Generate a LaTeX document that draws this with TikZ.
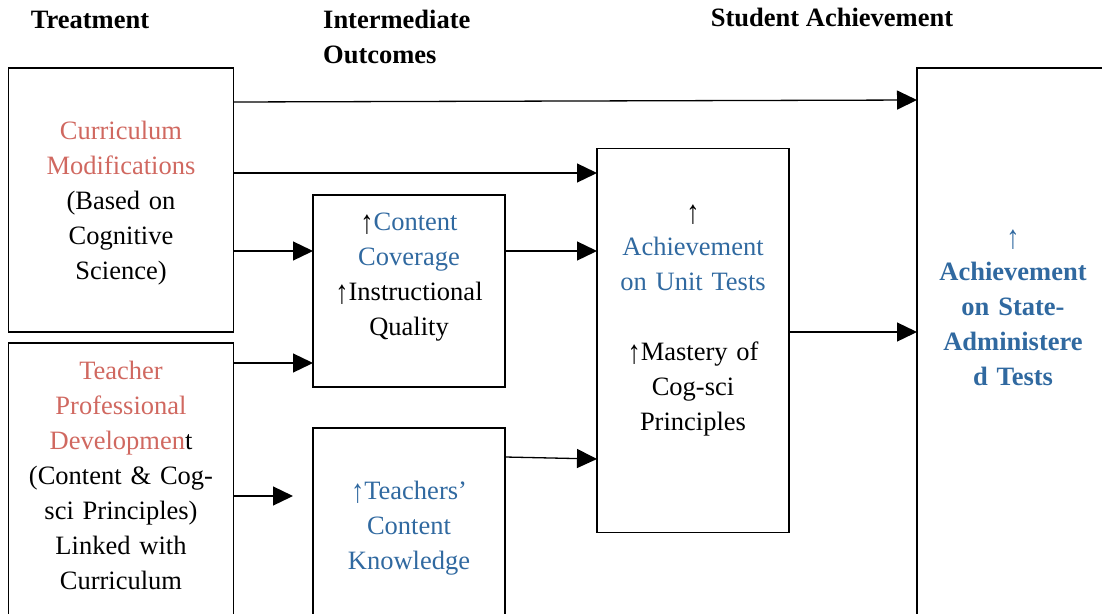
\documentclass[tikz,border=0pt]{standalone}
\usepackage{fontspec}
\usepackage{graphicx}
\setmainfont{Liberation Serif}
\usetikzlibrary{arrows.meta}
\definecolor{tred}{RGB}{208,104,96}
\definecolor{tblue}{RGB}{48,105,160}
\newcommand\myup{\raisebox{-3pt}{\scalebox{1}[1.25]{↑}}}
\begin{document}
\begin{tikzpicture}[x=1pt,y=-1pt,
  box/.style={draw, line width=1.4pt, inner sep=0pt, outer sep=0pt},
  txt/.style={anchor=base, inner sep=0pt, text width=#1, align=center, font=\fontsize{26.5}{35}\selectfont},
  hdr/.style={anchor=base, inner sep=0pt, font=\fontsize{26.5}{35}\selectfont\bfseries},
  hdrleft/.style={anchor=base west, inner sep=0pt, text width=200pt, align=left, font=\fontsize{26.5}{35}\selectfont\bfseries},
  arr/.style={line width=1.3pt, -{Triangle[length=20pt,width=19pt]}}]
\useasboundingbox (0,0) rectangle (1102,613);
\clip (0,0) rectangle (1102,613);

% headers
\node[hdr] (h1) at (90,28) {Treatment};
\node[hdrleft] (h2) at (323,28) {Intermediate\\Outcomes};
\node[hdr] (h3) at (832,26) {Student Achievement};

% boxes
\node[box, minimum width=225pt, minimum height=264pt] (A) at (121,200) {};
\node[box, minimum width=225pt, minimum height=300pt] (B) at (121,493) {};
\node[box, minimum width=192pt, minimum height=192pt] (C) at (409,291) {};
\node[box, minimum width=192pt, minimum height=220pt] (D) at (409,538) {};
\node[box, minimum width=192pt, minimum height=384pt] (E) at (693,340.5) {};
\node[box, minimum width=213pt, minimum height=580pt] (F) at (1023.5,358) {};

% box texts
\node[txt=220pt] (tA) at (121,139) {\textcolor{tred}{Curriculum}\\\textcolor{tred}{Modifications}\\(Based on\\Cognitive\\Science)};
\node[txt=220pt] (tB) at (121,379) {\textcolor{tred}{Teacher}\\\textcolor{tred}{Professional}\\\textcolor{tred}{Developmen}t\\(Content \& Cog-\\sci Principles)\\Linked with\\Curriculum};
\node[txt=188pt] (tC) at (409,230) {\myup\textcolor{tblue}{Content}\\\textcolor{tblue}{Coverage}\\\myup Instructional\\Quality};
\node[txt=188pt] (tD) at (409,499) {\textcolor{tblue}{\myup Teachers’}\\\textcolor{tblue}{Content}\\\textcolor{tblue}{Knowledge}};
\node[txt=188pt] (tE) at (693,220) {\myup\\\textcolor{tblue}{Achievement}\\\textcolor{tblue}{on Unit Tests}\\[35pt]\myup Mastery of\\Cog-sci\\Principles};
\node[txt=188pt] (tF) at (1013,245) {\textcolor{tblue}{\myup}\\\textcolor{tblue}{\bfseries Achievement}\\\textcolor{tblue}{\bfseries on State-}\\\textcolor{tblue}{\bfseries Administere}\\\textcolor{tblue}{\bfseries d Tests}};

% connectors
\coordinate (bEnd) at (293,496);
\draw[arr] (A.east |- 0,102) -- (F.west |- 0,100);
\draw[arr] (A.east |- 0,173) -- (E.west |- 0,173);
\draw[arr] (A.east |- 0,251) -- (C.west |- 0,251);
\draw[arr] (C.east |- 0,251) -- (E.west |- 0,251);
\draw[arr] (B.east |- 0,363) -- (C.west |- 0,363);
\draw[arr] (B.east |- 0,496) -- (bEnd);
\draw[arr] (D.east |- 0,457) -- (E.west |- 0,459);
\draw[arr] (E.east |- 0,332) -- (F.west |- 0,332);
\end{tikzpicture}
\end{document}
